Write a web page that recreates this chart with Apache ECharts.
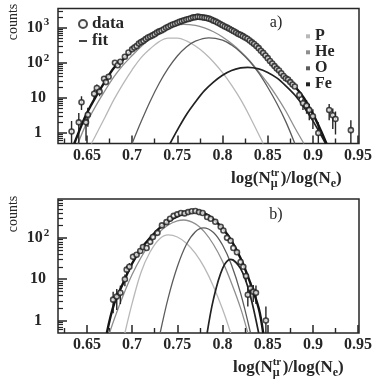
<!DOCTYPE html>
<html>
<head>
<meta charset="utf-8">
<title>log(N_mu^tr)/log(N_e)</title>
<style>
  html, body { margin: 0; padding: 0; background: #fff; }
  #main { width: 382px; height: 382px; }
</style>
</head>
<body>
<div id="main"></div>
<script src="https://cdn.jsdelivr.net/npm/echarts@6/dist/echarts.min.js"></script>
<script>
// axis ticks
var xMajor = [0.65, 0.7, 0.75, 0.8, 0.85, 0.9, 0.95];
var xMinor = [0.625, 0.675, 0.725, 0.775, 0.825, 0.875, 0.925];
var yMajor = [1, 10, 100, 1000];
var yMinor = [0.6, 0.7, 0.8, 0.9, 2, 3, 4, 5, 6, 7, 8, 9, 20, 30, 40, 50, 60, 70, 80, 90,
              200, 300, 400, 500, 600, 700, 800, 900, 2000, 3000];

// panel a) measured points [x, counts]
var dataA = [
  [0.633, 1.1], [0.641, 2], [0.644, 7.5], [0.649, 2], [0.651, 3.3], [0.658, 13], [0.661, 19],
  [0.664, 15], [0.669, 35], [0.671, 28], [0.674, 40], [0.681, 100], [0.684, 85], [0.687, 107],
  [0.692, 148], [0.696, 195], [0.70, 240], [0.7025, 270], [0.705, 300], [0.7075, 350],
  [0.71, 390], [0.7125, 420], [0.715, 470], [0.7175, 520], [0.72, 560], [0.7225, 600],
  [0.725, 650], [0.7275, 720], [0.73, 780], [0.7325, 830], [0.735, 900], [0.7375, 990],
  [0.74, 1060], [0.7425, 1150], [0.745, 1230], [0.7475, 1290], [0.75, 1380], [0.7525, 1470],
  [0.755, 1530], [0.7575, 1620], [0.76, 1700], [0.7625, 1760], [0.765, 1850], [0.7675, 1950],
  [0.77, 1980], [0.7725, 2050], [0.775, 2000], [0.7775, 1980], [0.78, 1920], [0.7825, 1870],
  [0.785, 1800], [0.7875, 1700], [0.79, 1580], [0.7925, 1480], [0.795, 1380], [0.7975, 1260],
  [0.80, 1170], [0.8025, 1080], [0.805, 1000], [0.8075, 930], [0.81, 850], [0.8125, 790],
  [0.815, 720], [0.8175, 660], [0.82, 620], [0.8225, 570], [0.825, 520], [0.8275, 480],
  [0.83, 430], [0.8325, 380], [0.835, 340], [0.8375, 300], [0.84, 260], [0.8425, 220],
  [0.845, 190], [0.8475, 160], [0.85, 135], [0.8525, 112], [0.855, 95], [0.8575, 80],
  [0.86, 68], [0.8625, 60], [0.865, 50], [0.8675, 42], [0.87, 36], [0.8725, 33], [0.875, 28],
  [0.8775, 24], [0.88, 21], [0.885, 12], [0.889, 7], [0.893, 6], [0.896, 4.5], [0.90, 3],
  [0.906, 1], [0.918, 4.5], [0.922, 3.2], [0.925, 2.5], [0.942, 1.2]
];
// panel a) error bars [x, low, high]
var errA = [
  [0.633, 0.4, 2.2], [0.641, 0.5, 3.7], [0.644, 4.5, 11], [0.649, 0.6, 3.5], [0.651, 1.5, 5.2],
  [0.658, 9, 17], [0.661, 14, 24], [0.664, 11, 19], [0.669, 29, 41], [0.674, 34, 46],
  [0.885, 9, 15], [0.889, 4.5, 9.5], [0.893, 3.5, 8.5], [0.896, 2.3, 6.7], [0.90, 1.3, 4.7],
  [0.906, 0.3, 2], [0.918, 2.3, 6.7], [0.922, 1.3, 5], [0.925, 0.9, 4.1], [0.942, 0.3, 2.3]
];
var fitA = [
  [0.636, 0.5], [0.645, 1.9], [0.65, 3.7], [0.66, 11], [0.67, 29], [0.68, 72], [0.69, 122],
  [0.70, 235], [0.71, 400], [0.72, 560], [0.73, 770], [0.74, 1070], [0.75, 1390], [0.76, 1700],
  [0.77, 1980], [0.775, 2010], [0.78, 1920], [0.79, 1600], [0.80, 1180], [0.81, 850],
  [0.82, 630], [0.83, 430], [0.84, 265], [0.85, 135], [0.86, 68], [0.87, 36], [0.88, 21],
  [0.89, 10], [0.90, 3.5], [0.91, 1], [0.915, 0.5]
];
var pA = [
  [0.655, 0.5], [0.67, 2.8], [0.68, 9], [0.69, 25], [0.70, 63], [0.71, 140], [0.72, 250],
  [0.73, 400], [0.74, 500], [0.75, 500], [0.76, 420], [0.77, 300], [0.78, 190], [0.79, 105],
  [0.80, 52], [0.81, 23], [0.82, 9], [0.83, 3], [0.845, 0.5]
];
var heA = [
  [0.64, 0.5], [0.65, 2], [0.66, 6], [0.67, 16], [0.68, 40], [0.69, 85], [0.70, 160],
  [0.71, 290], [0.72, 480], [0.73, 740], [0.74, 1000], [0.75, 1180], [0.757, 1230],
  [0.77, 1150], [0.78, 980], [0.79, 760], [0.80, 540], [0.81, 350], [0.82, 210], [0.83, 115],
  [0.84, 56], [0.85, 26], [0.86, 11], [0.87, 4.2], [0.88, 1.4], [0.89, 0.5]
];
var oA = [
  [0.70, 0.5], [0.71, 2.1], [0.72, 8], [0.73, 26], [0.74, 70], [0.75, 155], [0.76, 280],
  [0.77, 410], [0.785, 510], [0.80, 440], [0.81, 320], [0.82, 200], [0.83, 110], [0.84, 51],
  [0.85, 20], [0.86, 7], [0.87, 2.1], [0.88, 0.5]
];
var feA = [
  [0.742, 0.5], [0.75, 1.2], [0.76, 3.3], [0.77, 7.6], [0.78, 16], [0.79, 28], [0.80, 44],
  [0.81, 60], [0.82, 71], [0.828, 74], [0.84, 67], [0.85, 53], [0.86, 37], [0.87, 22],
  [0.88, 12], [0.89, 5.5], [0.90, 2.2], [0.914, 0.5]
];

// panel b)
var dataB = [
  [0.679, 3.2], [0.683, 3.8], [0.687, 4.7], [0.692, 10], [0.694, 17], [0.697, 20], [0.701, 35],
  [0.705, 39], [0.709, 48], [0.712, 60], [0.716, 57], [0.72, 80], [0.723, 105], [0.728, 132],
  [0.733, 200], [0.738, 240], [0.742, 290], [0.746, 340], [0.75, 370], [0.754, 400],
  [0.758, 390], [0.762, 420], [0.766, 440], [0.77, 445], [0.774, 420], [0.778, 400],
  [0.783, 320], [0.787, 290], [0.792, 245], [0.798, 185], [0.801, 150], [0.805, 100],
  [0.809, 85], [0.812, 57], [0.816, 45], [0.82, 26], [0.823, 20], [0.826, 12], [0.828, 4.2],
  [0.831, 6], [0.834, 5], [0.837, 4.7], [0.848, 1]
];
var errB = [
  [0.679, 1.5, 5], [0.683, 1.8, 5.8], [0.687, 2.5, 7], [0.692, 6.8, 13], [0.694, 13, 21],
  [0.697, 15.5, 24.5], [0.701, 29, 41], [0.826, 8.5, 15.5], [0.828, 2.2, 6.2],
  [0.831, 3.5, 8.5], [0.834, 2.8, 7.2], [0.837, 2.5, 7], [0.848, 0.4, 2.2]
];
var fitB = [
  [0.672, 0.5], [0.68, 2.5], [0.69, 8], [0.70, 24], [0.71, 55], [0.72, 100], [0.73, 170],
  [0.74, 250], [0.75, 330], [0.76, 400], [0.77, 425], [0.78, 390], [0.79, 280], [0.80, 170],
  [0.81, 85], [0.82, 32], [0.83, 9], [0.84, 2], [0.845, 0.5]
];
var pB = [
  [0.692, 0.5], [0.70, 2.6], [0.71, 15], [0.72, 46], [0.73, 93], [0.74, 118], [0.75, 105],
  [0.76, 74], [0.77, 42], [0.78, 19], [0.79, 6.7], [0.80, 1.9], [0.809, 0.5]
];
var heB = [
  [0.675, 0.5], [0.68, 1.05], [0.69, 4], [0.70, 13], [0.71, 34], [0.72, 75], [0.73, 136],
  [0.74, 205], [0.75, 257], [0.757, 270], [0.77, 218], [0.78, 139], [0.79, 69], [0.80, 27],
  [0.81, 8], [0.82, 2], [0.828, 0.5]
];
var oB = [
  [0.731, 0.5], [0.74, 3.6], [0.75, 20], [0.76, 69], [0.77, 141], [0.779, 175], [0.79, 135],
  [0.80, 67], [0.81, 22], [0.82, 4.6], [0.831, 0.5]
];
var feB = [
  [0.783, 0.5], [0.79, 3.3], [0.80, 18], [0.809, 30], [0.82, 18], [0.83, 4.6], [0.84, 0.5]
];

var compNames = ['P', 'He', 'O', 'Fe'];
var compColors = ['#b8b8b8', '#8e8e8e', '#5c5c5c', '#222'];

var FONT = '"Liberation Serif", "DejaVu Serif", serif';
var INK = '#262626';

function xLabel(v) { return String(Math.round(v * 100) / 100); }
function yLabel(v) {
  var e = Math.round(Math.log(v) / Math.LN10);
  if (e < 2) return '{b|' + Math.round(v) + '}';
  return '{b|10}{s|' + e + '}';
}

function xAxes(grid) {
  var base = {
    type: 'value', gridIndex: grid, position: 'bottom', min: 0.618, max: 0.951,
    axisLine: { show: false }, splitLine: { show: false }
  };
  return [
    Object.assign({}, base, {
      axisTick: { show: true, inside: true, length: 8, customValues: xMajor, lineStyle: { color: INK, width: 1.5 } },
      axisLabel: { customValues: xMajor, formatter: xLabel, margin: 4, fontFamily: FONT,
                   fontSize: 16, fontWeight: 'bold', color: INK }
    }),
    Object.assign({}, base, {
      axisLabel: { show: false },
      axisTick: { show: true, inside: true, length: 5, customValues: xMinor, lineStyle: { color: INK, width: 1.4 } }
    })
  ];
}

function yAxes(grid, max) {
  var base = {
    type: 'log', logBase: 10, gridIndex: grid, position: 'left', min: 0.5, max: max,
    axisLine: { show: false }, splitLine: { show: false }
  };
  return [
    Object.assign({}, base, {
      axisTick: { show: true, inside: true, length: 9, customValues: yMajor, lineStyle: { color: INK, width: 1.5 } },
      axisLabel: {
        customValues: yMajor, formatter: yLabel, margin: 20, align: 'center',
        rich: {
          b: { fontFamily: FONT, fontSize: 16, fontWeight: 'bold', color: INK },
          s: { fontFamily: FONT, fontSize: 11, fontWeight: 'bold', color: INK, padding: [0, 0, 10, 1] }
        }
      }
    }),
    Object.assign({}, base, {
      axisLabel: { show: false },
      axisTick: { show: true, inside: true, length: 5, customValues: yMinor, lineStyle: { color: INK, width: 1.2 } }
    })
  ];
}

function errorBars(axis, err) {
  return {
    type: 'custom', xAxisIndex: axis, yAxisIndex: axis, clip: true, z: 3,
    encode: { x: 0, y: [1, 2] },
    data: err,
    renderItem: function (params, api) {
      var lo = api.coord([api.value(0), api.value(1)]);
      var hi = api.coord([api.value(0), api.value(2)]);
      return {
        type: 'line',
        shape: { x1: lo[0], y1: lo[1], x2: hi[0], y2: hi[1] },
        style: { stroke: INK, lineWidth: 1.4 }
      };
    }
  };
}

function panelSeries(axis, data, err, fit, comps) {
  var out = comps.map(function (c, i) {
    return {
      name: compNames[i], type: 'line', xAxisIndex: axis, yAxisIndex: axis,
      data: c, smooth: 0.35, showSymbol: false, z: 2, color: compColors[i],
      lineStyle: { width: i === 3 ? 1.7 : 1.3 }
    };
  });
  out.push({
    name: 'fit', type: 'line', xAxisIndex: axis, yAxisIndex: axis, data: fit,
    smooth: 0.35, showSymbol: false, z: 4, color: '#151515', lineStyle: { width: 2.4 }
  });
  out.push(errorBars(axis, err));
  out.push({
    name: 'data', type: 'scatter', xAxisIndex: axis, yAxisIndex: axis, data: data,
    symbol: 'circle', symbolSize: 5, z: 5,
    itemStyle: { color: '#f4f4f4', borderColor: '#1e1e1e', borderWidth: 1.6 }
  });
  return out;
}

var myChart = echarts.init(document.getElementById('main'));

var xTitle = {
  text: 'log(N{sup|tr}{sub|\u03bc})/log(N{sub2|e})',
  font: 'bold 17px ' + FONT,
  fill: INK,
  align: 'left',
  verticalAlign: 'middle',
  rich: {
    sup: { fontFamily: FONT, fontSize: 11, fontWeight: 'bold', width: 0, padding: [0, 0, 12, 0] },
    sub: { fontFamily: FONT, fontSize: 12, fontWeight: 'bold', width: 10, padding: [10, 0, 0, 0] },
    sub2: { fontFamily: FONT, fontSize: 12, fontWeight: 'bold', padding: [10, 0, 0, 0] }
  }
};
var labelStyle = { font: '16px ' + FONT, fill: INK, align: 'center', verticalAlign: 'middle' };

option = {
  backgroundColor: '#fff',
  animation: false,
  grid: [
    { left: 58, top: 8.5, width: 301, height: 135, show: true, borderColor: INK, borderWidth: 1.5 },
    { left: 58, top: 199, width: 301, height: 134, show: true, borderColor: INK, borderWidth: 1.5 }
  ],
  xAxis: xAxes(0).concat(xAxes(1)),
  yAxis: yAxes(0, 3500).concat(yAxes(1, 870)),
  legend: [
    {
      left: 73, top: 10.5, orient: 'vertical', itemWidth: 8, itemHeight: 8, itemGap: 0,
      selectedMode: false,
      textStyle: { fontFamily: FONT, fontSize: 17, fontWeight: 'bold', lineHeight: 11, color: INK },
      data: [{ name: 'data', icon: 'circle' }, { name: 'fit', icon: 'path://M0,0H8V1.6H0Z' }]
    },
    {
      left: 301, top: 23.3, orient: 'vertical', itemWidth: 4, itemHeight: 4, itemGap: 0,
      selectedMode: false,
      textStyle: { fontFamily: FONT, fontSize: 16, fontWeight: 'bold', lineHeight: 11.5, color: INK },
      data: compNames.map(function (n) { return { name: n, icon: 'rect' }; })
    }
  ],
  graphic: [
    { type: 'text', x: 13, y: 22, rotation: Math.PI / 2,
      style: { text: 'counts', font: '14px ' + FONT, fill: INK, align: 'center', verticalAlign: 'middle' } },
    { type: 'text', x: 13, y: 214, rotation: Math.PI / 2,
      style: { text: 'counts', font: '14px ' + FONT, fill: INK, align: 'center', verticalAlign: 'middle' } },
    { type: 'text', x: 276, y: 23, style: Object.assign({ text: 'a)' }, labelStyle) },
    { type: 'text', x: 276, y: 215, style: Object.assign({ text: 'b)' }, labelStyle) },
    { type: 'text', x: 231, y: 179, style: Object.assign({}, xTitle) },
    { type: 'text', x: 233, y: 368, style: Object.assign({}, xTitle) }
  ],
  series: panelSeries(0, dataA, errA, fitA, [pA, heA, oA, feA])
    .concat(panelSeries(2, dataB, errB, fitB, [pB, heB, oB, feB]))
};

myChart.setOption(option);
</script>
</body>
</html>
